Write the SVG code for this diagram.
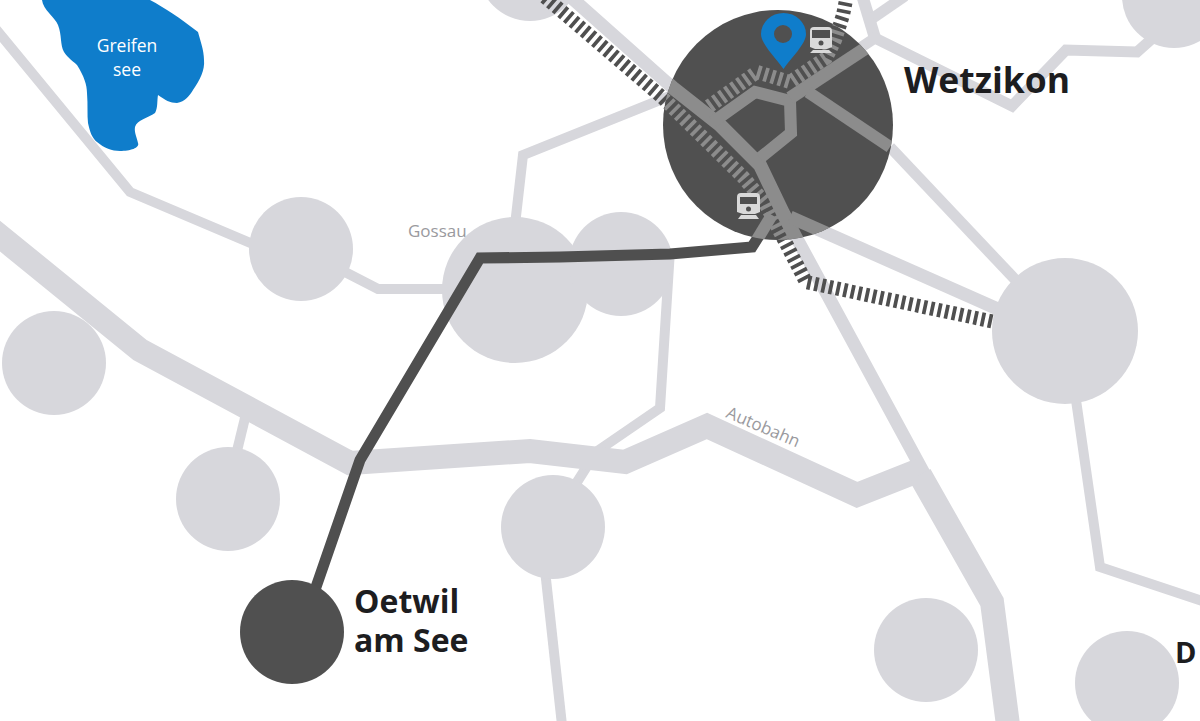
<svg xmlns="http://www.w3.org/2000/svg" xmlns:xlink="http://www.w3.org/1999/xlink" width="1200" height="721" viewBox="0 0 1200 721">
<style>
text{font-family:"Open Sans","Noto Sans","Liberation Sans",sans-serif}
.r{fill:none;stroke-linejoin:miter}
.n{fill:#d7d7dc}
.l{font-weight:700;fill:#1d1d1f}
.s{font-size:17px;fill:#9a9a9e}
.w{font-size:17.500px;fill:#fff;text-anchor:middle}
.rail{fill:none;stroke-width:14;stroke-dasharray:3.700 3.700}
.t{fill:#d9d9d9}
</style>
<defs>
<clipPath id="c"><circle cx="778" cy="125" r="115"/></clipPath>
<g id="roads" class="r">
<path stroke-width="14" d="M565 -8L673 88L720 125L760 165L783 213L913 465"/>
<path stroke-width="12" d="M713 122L755 92L790 101L791 133L760 158"/>
<path stroke-width="13" d="M790 98L875 42"/>
<path stroke-width="12" d="M808 92L890 147"/>
<path stroke-width="13" d="M790 217L1000 310"/>
<path stroke-width="12" d="M752 248L772 215"/>
</g>
<g id="railA" class="rail">
<path d="M545 -3L663 98L743 177L765 203L778 228L806 282L995 322"/>
<path d="M847 -5L843 15L835 40L826 58L790 82L757 72L708 107"/>
</g>
</defs>
<g id="lake"><path fill="#0f7dcb" d="M42 0C43 10 55 17 58 25C62 35 60 45 64 52C68 58 74 62 77 65C84 76 87 85 87 93C88 105 87 115 88 123C90 132 92 138 97 142C104 148 112 151 120 151C130 151 140 148 138 143C137 138 134 132 135 127C137 120 148 118 155 113C158 108 157 100 158 95C165 100 170 103 177 103C185 102 190 95 193 90C200 80 205 70 204 60C204 50 200 40 198 32C180 18 165 8 150 0Z"/><text class="w" x="127" y="52">Greifen</text><text class="w" x="127" y="76">see</text></g>
<g id="connectors" stroke="#d7d7dc">
<g class="r" stroke-width="10">
<path d="M-5 28L130 192L255 245"/>
<path d="M345 272L378 289L450 289"/>
<path d="M515 225L523 155L680 92"/>
<path d="M862 -5L875 38" stroke-width="12"/>
<path d="M873 18L905 -4" stroke-width="11"/>
<path d="M860 48L875 38L1012 106L1066 50L1137 52L1155 36" stroke-width="11"/>
<path d="M890 147L1025 290" stroke-width="11"/>
<path d="M1076 400L1100 567L1205 602"/>
<path d="M670 250L660 408L596 452L572 490"/>
<path d="M245 418L236 455"/>
<path d="M545 570L562 725"/>
</g>
<path class="r" stroke-width="13" d="M565 -8L673 88L720 125L760 165L783 213L925 475"/>
<path class="r" stroke-width="13" d="M790 217L1000 310"/>
<path class="r" stroke-width="24" d="M-10 228L140 350L350 463L530 451L625 462L707 426L857 495L920 470"/>
<path class="r" stroke-width="24" d="M920 475L992 602L1008 725"/>
</g>
<g id="node-1"><circle class="n" cx="301" cy="249" r="52"/></g>
<g id="node-gossau"><circle class="n" cx="515" cy="290" r="73"/><text class="s" x="408" y="237">Gossau</text></g>
<g id="node-3"><circle class="n" cx="621" cy="264" r="52"/></g>
<g id="node-4"><circle class="n" cx="1065" cy="331" r="73"/></g>
<g id="node-5"><circle class="n" cx="54" cy="363" r="52"/></g>
<g id="node-6"><circle class="n" cx="228" cy="499" r="52"/></g>
<g id="node-7"><circle class="n" cx="553" cy="527" r="52"/></g>
<g id="node-8"><circle class="n" cx="926" cy="650" r="52"/></g>
<g id="node-9"><circle class="n" cx="1127" cy="683" r="52"/><text class="l" x="1175" y="663" font-size="29">D</text></g>
<g id="node-10"><circle class="n" cx="530" cy="-31" r="52"/></g>
<g id="node-11"><circle class="n" cx="1174" cy="-4" r="52"/></g>
<text class="s" transform="translate(725 417) rotate(23)">Autobahn</text>
<g id="rail-outer"><use xlink:href="#railA" href="#railA" stroke="#4f4f4f"/></g>
<g id="route"><path fill="none" stroke="#4f4f4f" stroke-width="11" d="M315 590L360 460L480 258L560 257L670 254L752 247L772 215"/></g>
<g id="node-wetzikon">
<circle cx="778" cy="125" r="115" fill="#505050"/>
<g clip-path="url(#c)">
<use xlink:href="#railA" href="#railA" stroke="#8c8c8c"/>
<use xlink:href="#roads" href="#roads" stroke="#8c8c8c"/>
</g>
<text class="l" x="904" y="93" font-size="35.500">Wetzikon</text>
</g>
<g id="pin"><path fill="#0f7dcb" d="M783.500 69C776 58 761 44 761 34A22.500 21 0 0 1 806 34C806 44 791 58 783.500 69Z"/><circle cx="783" cy="34" r="9" fill="#505050"/></g>
<g id="train-1"><path class="t" d="M814 27H828Q832 27 832 31V47L827 49H815L810 47V31Q810 27 814 27ZM813 50H829L832 53H810Z"/><rect x="812" y="30" width="18" height="8" fill="#505050"/><circle cx="821" cy="43" r="2.500" fill="#505050"/></g>
<g id="train-2"><path class="t" d="M741 193H756Q760 193 760 197V212L755 214H743L737 212V197Q737 193 741 193ZM741 215H756L759 219H738Z"/><rect x="740" y="197" width="17" height="7" fill="#505050"/><circle cx="748.500" cy="209" r="2.500" fill="#505050"/></g>
<g id="node-oetwil"><circle cx="292" cy="632" r="52" fill="#505050"/><text class="l" x="354" y="613" font-size="32">Oetwil</text><text class="l" x="354" y="652" font-size="32">am See</text></g>
</svg>
